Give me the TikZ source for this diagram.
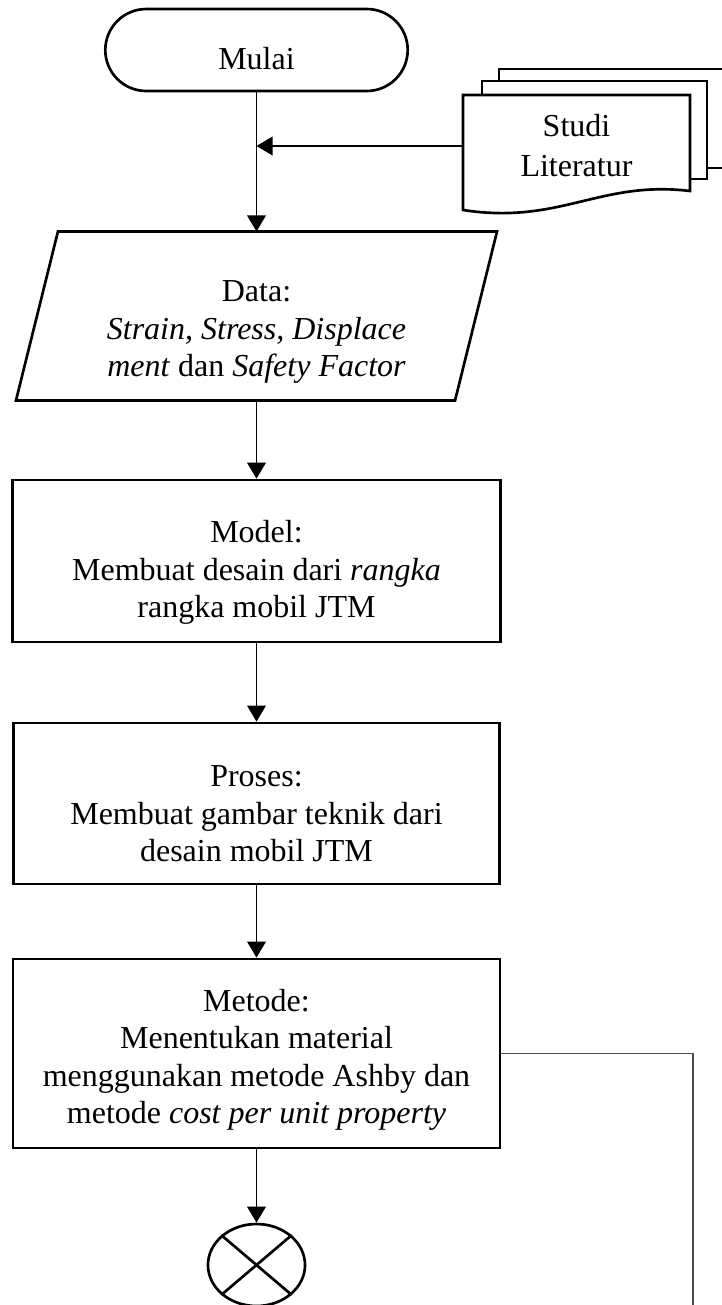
\documentclass[tikz,border=0pt]{standalone}
\usepackage{fontspec}
\setmainfont{Liberation Serif}
\usetikzlibrary{arrows.meta,shapes.geometric,shapes.misc}
\newcommand{\ruang}[1]{\rule{0pt}{#1}}

\begin{document}
\begin{tikzpicture}[x=0.375pt,y=-0.375pt,font=\fontsize{12}{14}\selectfont,
  arr/.style={-{Triangle[length=6pt,width=7pt]},line width=0.5pt},
  box/.style={draw,line width=1pt,align=center,inner sep=2pt},
  term/.style={box,rounded rectangle,minimum width=117.4pt,minimum height=30.75pt},
  proc/.style={box,rectangle},
  txt/.style={align=center,inner sep=2pt},
  docu/.style={draw,line width=1pt,fill=white},
  conn/.style={draw,line width=1pt,ellipse,minimum width=36.4pt,minimum height=30.75pt,inner sep=0pt},
  balik/.style={line width=0.6pt,draw=black!70}]
\useasboundingbox (0,0) rectangle (722,1305);
\clip (0,0) rectangle (722,1305);

\node[term] (mulai) at (256.5,50) {\ruang{15pt}Mulai};

% tumpukan dokumen
\draw[docu] (499,69) rectangle (740,168);
\draw[docu] (482,81) rectangle (707,179);
\draw[docu] (463,95) -- (690,95) -- (690,191)
  .. controls (600,180) and (560,225) .. (463,210) -- cycle;
\node[txt,font=\fontsize{12}{15}\selectfont,minimum width=85.1pt,minimum height=38.25pt] (lit) at (576.5,146) {Studi\\Literatur};

\node[txt,minimum width=180pt,minimum height=63pt] (data) at (256.5,316)
  {\ruang{20pt}Data:\\\textit{Strain, Stress, Displace}\\\textit{ment} dan \textit{Safety Factor}};
\draw[line width=1pt] ([xshift=15.75pt]data.north west) -- (data.north east)
  -- ([xshift=-15.75pt]data.south east) -- (data.south west) -- cycle;

\node[proc,minimum width=183pt,minimum height=60.75pt] (model) at (256.5,561)
  {\ruang{17pt}Model:\\Membuat desain dari \textit{rangka}\\rangka mobil JTM};
\node[proc,minimum width=182.25pt,minimum height=60.4pt] (proses) at (256.5,803.5)
  {\ruang{15.5pt}Proses:\\Membuat gambar teknik dari\\desain mobil JTM};
\node[proc,minimum width=182.6pt,minimum height=70.9pt] (metode) at (256.5,1053.5)
  {\ruang{13pt}Metode:\\Menentukan material\\menggunakan metode Ashby dan\\metode \textit{cost per unit property}};
\node[conn] (sambung) at (256.5,1265) {};
\draw[line width=1pt] (sambung.north west) -- (sambung.south east)
  (sambung.north east) -- (sambung.south west);

\draw[arr] (mulai.south) -- (data.north);
\draw[arr] (lit.west) -- (lit.west -| mulai.south);
\draw[arr] (data.south) -- (model.north);
\draw[arr] (model.south) -- (proses.north);
\draw[arr] (proses.south) -- (metode.north);
\draw[arr] (metode.south) -- (sambung.north);

\coordinate (belok) at (693,1053.5);
\coordinate (bawah) at (693,1320);
\draw[balik] (metode.east) -- (belok) -- (bawah);
\end{tikzpicture}
\end{document}
